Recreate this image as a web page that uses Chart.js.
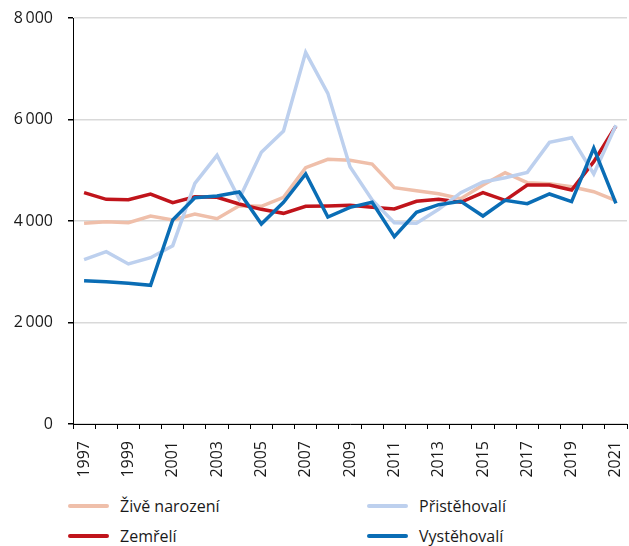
<!DOCTYPE html>
<html>
<head>
<meta charset="utf-8">
<script src="https://cdn.jsdelivr.net/npm/chart.js@4"></script>
<style>
  body { margin: 0; background: #fff; font-family: "Open Sans", sans-serif; }
  #wrap { position: relative; width: 629px; height: 546px; }
  #chart { position: absolute; left: 0; top: 0; }
  .leg { position: absolute; display: flex; align-items: center; font-size: 16px; color: #1a1a1a; }
  .leg span.sw { display: inline-block; width: 41px; height: 4px; border-radius: 2px; margin-right: 11px; }
</style>
</head>
<body>
<div id="wrap">
  <canvas id="chart" width="629" height="480"></canvas>
  <div class="leg" style="left:68px; top:495px"><span class="sw" style="background:#efbfaa"></span>Živě narození</div>
  <div class="leg" style="left:367px; top:495px"><span class="sw" style="background:#bdd0ee"></span>Přistěhovalí</div>
  <div class="leg" style="left:68px; top:525px"><span class="sw" style="background:#c0141b"></span>Zemřelí</div>
  <div class="leg" style="left:367px; top:525px"><span class="sw" style="background:#0a6db5"></span>Vystěhovalí</div>
</div>
<script>
const years = ["1997","1998","1999","2000","2001","2002","2003","2004","2005","2006","2007","2008","2009",
               "2010","2011","2012","2013","2014","2015","2016","2017","2018","2019","2020","2021"];

const zivenarozeni = [3955, 3987, 3967, 4098, 4020, 4138, 4046, 4302, 4290, 4467, 5051, 5215, 5195,
                      5123, 4657, 4598, 4538, 4440, 4709, 4952, 4755, 4735, 4676, 4577, 4400];
const zemreli = [4558, 4427, 4420, 4532, 4361, 4479, 4467, 4335, 4230, 4151, 4289, 4296, 4308,
                 4269, 4236, 4388, 4427, 4368, 4558, 4407, 4709, 4709, 4611, 5169, 5872];
const pristehovali = [3238, 3396, 3153, 3277, 3514, 4742, 5294, 4433, 5353, 5773, 7323, 6516, 5070,
                      4414, 3967, 3955, 4230, 4558, 4768, 4853, 4958, 5550, 5642, 4926, 5885];
const vystehovali = [2824, 2804, 2772, 2733, 4020, 4460, 4493, 4571, 3941, 4368, 4926, 4079, 4269,
                     4368, 3691, 4171, 4322, 4388, 4098, 4407, 4341, 4532, 4381, 5438, 4348];

const yTicks = [0, 2000, 4000, 6000, 8000];

function line(label, data, color, order) {
    return {
        label: label,
        data: data,
        borderColor: color,
        backgroundColor: color,
        borderWidth: 3.5,
        pointRadius: 0,
        tension: 0,
        order: order
    };
}

// thousands with a narrow space, as in the source
function fmt(v) {
    return String(v).replace(/\B(?=(\d{3})+(?!\d))/g, "\u2009");
}

const ctx = document.getElementById("chart").getContext("2d");
new Chart(ctx, {
    type: "line",
    data: {
        labels: years,
        datasets: [
            line("Živě narození", zivenarozeni, "#efbfaa", 3),
            line("Zemřelí", zemreli, "#c0141b", 2),
            line("Přistěhovalí", pristehovali, "#bdd0ee", 1),
            line("Vystěhovalí", vystehovali, "#0a6db5", 0)
        ]
    },
    options: {
        responsive: false,
        animation: false,
        layout: { padding: { top: 18, right: 2, left: 0, bottom: 0 } },
        plugins: {
            legend: { display: false },
            tooltip: { enabled: false }
        },
        scales: {
            x: {
                offset: true,
                grid: { drawOnChartArea: false, tickLength: 5, tickColor: "#000", offset: true },
                border: { color: "#000", width: 1 },
                ticks: {
                    autoSkip: false,
                    minRotation: 90,
                    maxRotation: 90,
                    padding: 12,
                    color: "#1a1a1a",
                    font: { family: "Open Sans", size: 16 },
                    callback: function(v, i) { return i % 2 === 0 ? years[i] : ""; }
                },
                afterFit: function(scale) {
                    scale.height = 56;
                    scale.paddingLeft = 0;
                    scale.paddingRight = 0;
                }
            },
            y: {
                min: 0,
                max: 8000,
                afterBuildTicks: function(scale) { scale.ticks = yTicks.map(v => ({ value: v })); },
                grid: { color: "#d9d9d9", lineWidth: 1.5, tickLength: 5, tickColor: "#000" },
                border: { color: "#000", width: 1 },
                ticks: {
                    padding: 15,
                    color: "#1a1a1a",
                    font: { family: "Open Sans", size: 16 },
                    callback: function(v) { return fmt(v); }
                },
                afterFit: function(scale) {
                    scale.width = 73;
                    scale.paddingTop = 0;
                    scale.paddingBottom = 0;
                }
            }
        }
    }
});
</script>
</body>
</html>
